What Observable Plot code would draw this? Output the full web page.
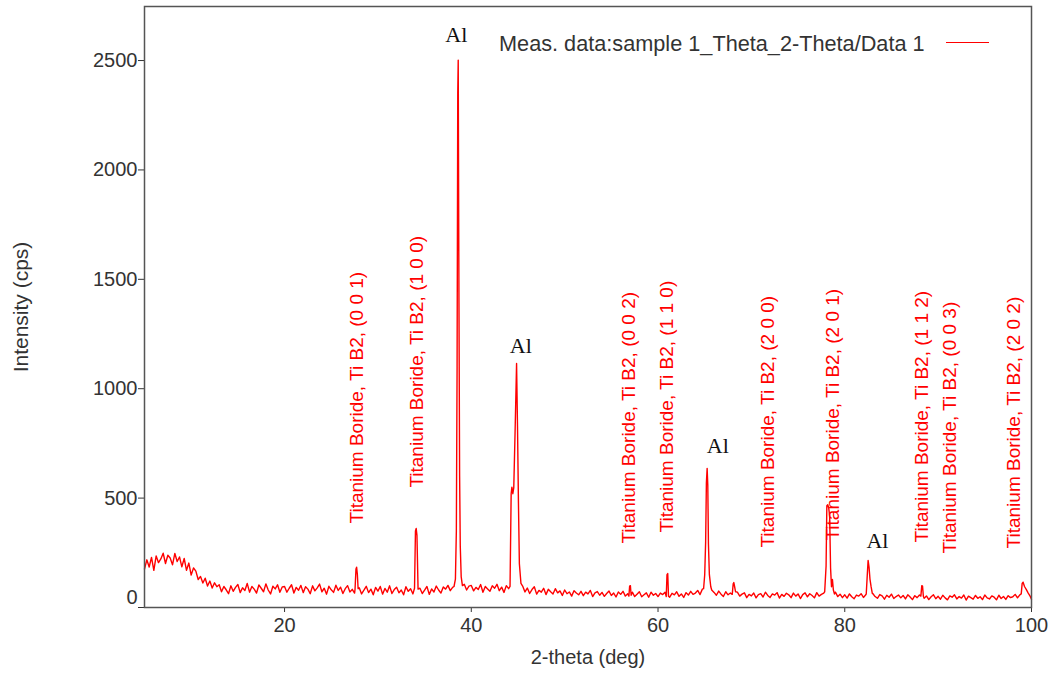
<!DOCTYPE html>
<html>
<head>
<meta charset="utf-8">
<script src="https://cdn.jsdelivr.net/npm/d3@7"></script>
<script src="https://cdn.jsdelivr.net/npm/@observablehq/plot@0.6"></script>
<style>
  body { margin: 0; background: #fff; }
  #wrap { position: relative; width: 1053px; height: 673px; }
  #legendText { position: absolute; left: 499px; top: 33px; font: 21.7px "Liberation Sans", Arial, sans-serif; line-height: 21px; color: #333; white-space: nowrap; }
  #legendLine { position: absolute; left: 946px; top: 42px; width: 43px; height: 0; border-top: 1.5px solid #ff0000; }
</style>
</head>
<body>
<div id="wrap">
  <div id="legendText">Meas. data:sample 1_Theta_2-Theta/Data 1</div>
  <div id="legendLine"></div>
</div>
<script>
// ---------- Data ----------
const xTicks = [20, 40, 60, 80, 100];
const yTicks = [0, 500, 1000, 1500, 2000, 2500];

// background scan, step 0.25 deg (null = position covered by a peak list below)
const bgStep = 0.25;
const bg05to20 = [
  176,218,185,229,170,236,205,222,
  248,201,239,226,195,247,210,231,
  186,224,170,203,148,181,166,128,
  142,112,134,98,121,89,113,95,
  104,72,96,81,63,99,74,92,
  105,68,90,78,110,70,96,84,
  66,103,88,72,108,80,62,97,
  85,104,70,94
];
const bg20to40 = [
  96,70,88,104,66,92,79,101,
  68,95,84,63,99,76,90,107,
  72,88,61,97,81,69,102,78,
  93,64,86,100,71,83,66,null,
  90,62,79,97,68,84,58,92,
  75,96,61,87,70,99,64,82,
  93,67,80,58,95,74,86,62,
  null,null,88,64,79,96,60,85,
  71,98,80,66,94,84,101,77,
  92,null,null,null,null,106,80,98
];
const bg40to60 = [
  101,76,92,82,105,70,96,85,
  74,99,88,106,77,93,69,100,
  86,null,null,null,null,null,98,71,
  89,64,82,95,61,78,70,88,
  59,83,72,62,86,67,76,55,
  80,63,71,52,77,66,58,74,
  54,70,62,78,50,67,73,56,
  69,51,64,75,55,66,48,71,
  60,74,52,63,null,70,50,61,
  72,49,58,67,47,70,56,64
];
const bg60to80 = [
  50,66,59,70,null,47,65,58,
  72,51,62,46,68,57,74,60,
  66,78,59,84,null,null,null,80,
  69,56,75,61,50,72,58,66,
  null,null,70,52,61,67,45,60,
  53,66,44,59,63,48,70,55,
  46,62,57,68,43,60,51,65,
  58,45,66,52,62,41,59,67,
  49,63,55,44,68,52,60,66,
  null,null,null,null,70,50,61,45
];
const bg80to100 = [
  58,43,62,49,40,57,52,63,
  46,58,null,null,64,50,42,59,
  53,38,56,47,61,41,50,57,
  44,55,39,58,48,36,54,45,
  57,null,42,53,36,49,58,40,
  51,38,56,44,35,53,47,58,
  39,50,43,57,34,52,45,38,
  55,42,49,36,57,44,39,53,
  47,35,56,41,50,37,54,45,
  49,60,44,58,null,null,null,null,
  38
];
const bgSegments = [[5, bg05to20], [20, bg20to40], [40, bg40to60], [60, bg60to80], [80, bg80to100]];

// peaks: [2-theta, intensity]
const pk27 = [[27.55,84],[27.65,176],[27.72,184],[27.8,150],[27.88,86]];
const pk34 = [[33.92,88],[34.02,350],[34.1,361],[34.18,330],[34.3,84]];
const pk38 = [[38.15,96],[38.3,130],[38.4,350],[38.48,1100],[38.55,2350],[38.6,2502],[38.68,1390],[38.75,600],[38.82,280],[38.92,140],[39.05,100]];
const pk44 = [[44.15,96],[44.27,520],[44.35,550],[44.45,520],[44.55,548],[44.7,820],[44.85,1115],[44.95,830],[45.05,480],[45.15,200],[45.32,110]];
const pk57 = [[56.88,52],[56.96,98],[57.04,100],[57.12,56]];
const pk61 = [[60.88,50],[60.96,150],[61.04,155],[61.12,52]];
const pk65 = [[64.88,86],[65.0,150],[65.1,300],[65.18,570],[65.26,636],[65.33,560],[65.4,290],[65.5,150],[65.65,95]];
const pk68 = [[67.95,60],[68.05,108],[68.12,114],[68.2,96],[68.3,72]];
const pk78 = [[77.85,72],[78.0,190],[78.08,465],[78.18,470],[78.28,455],[78.38,420],[78.48,180],[78.58,95],[78.68,128],[78.78,80],[78.9,62]];
const pk82 = [[82.3,62],[82.4,140],[82.5,215],[82.6,185],[82.7,130],[82.82,95],[82.95,64]];
const pk88 = [[88.15,52],[88.25,100],[88.33,98],[88.42,50]];
const pk99 = [[98.9,62],[99.0,110],[99.1,116],[99.25,96],[99.45,82],[99.65,66],[99.85,52]];
const peakLists = [pk27, pk34, pk38, pk44, pk57, pk61, pk65, pk68, pk78, pk82, pk88, pk99];

// phase annotations
const alX = [38.4, 45.3, 66.4, 83.5];
const alY = [2587, 1161, 704, 274];
const tib2Prefix = "Titanium Boride, Ti B2, ";
const tib2Hkl = ["(0 0 1)", "(1 0 0)", "(0 0 2)", "(1 1 0)", "(2 0 0)", "(2 0 1)", "(1 1 2)", "(0 0 3)", "(2 0 2)"];
const tib2X = [27.8, 34.2, 56.9, 61.0, 71.8, 78.7, 88.3, 91.3, 98.1];
const tib2Y = [384, 548, 292, 343, 274, 306, 297, 247, 270];

// ---------- Build tables ----------
const scan = [];
for (const [x0, vals] of bgSegments) {
  vals.forEach((v, i) => { if (v != null) scan.push({x: +(x0 + i * bgStep).toFixed(2), y: v}); });
}
for (const pk of peakLists) for (const [x, y] of pk) scan.push({x, y});
scan.sort((a, b) => a.x - b.x);

const alTable = alX.map((x, i) => ({x, y: alY[i]}));
const tibTable = tib2Hkl.map((h, i) => ({x: tib2X[i], y: tib2Y[i], text: tib2Prefix + h}));

const sans = '"Liberation Sans", Arial, Helvetica, sans-serif';

const chart = Plot.plot({
  width: 1053,
  height: 673,
  marginLeft: 144,
  marginRight: 22,
  marginTop: 6,
  marginBottom: 66,
  style: {fontFamily: sans, fontSize: "20px", color: "#333", background: "#fff"},
  x: {domain: [5, 100]},
  y: {domain: [0, 2747]},
  marks: [
    Plot.line(scan, {x: "x", y: "y", stroke: "#ff0000", strokeWidth: 1.4}),
    Plot.text(tibTable, {x: "x", y: "y", text: "text", rotate: -90, textAnchor: "start", fill: "#ff0000", fontSize: 19}),
    Plot.text(alTable, {x: "x", y: "y", text: () => "Al", lineAnchor: "bottom", fill: "#111", fontSize: 22, fontFamily: '"Liberation Serif", "Times New Roman", serif'}),
    Plot.axisX(xTicks, {tickSize: 5, tickPadding: 5, fontSize: 20, tickFormat: "d", label: "2-theta (deg)", labelAnchor: "center", labelOffset: 56, labelArrow: "none"}),
    Plot.axisY(yTicks, {tickSize: 6, text: null, label: "Intensity (cps)", labelAnchor: "center", labelOffset: 131, labelArrow: "none", fontSize: 21}),
    Plot.axisY(yTicks.filter(d => d !== 0), {tickSize: 0, tickPadding: 7, fontSize: 20, tickFormat: "d", label: null}),
    Plot.axisY([0], {tickSize: 0, tickPadding: 7, dy: -10, fontSize: 20, tickFormat: "d", label: null}),
    Plot.frame({stroke: "#555", strokeWidth: 1.5})
  ]
});
document.getElementById("wrap").prepend(chart);
</script>
</body>
</html>
